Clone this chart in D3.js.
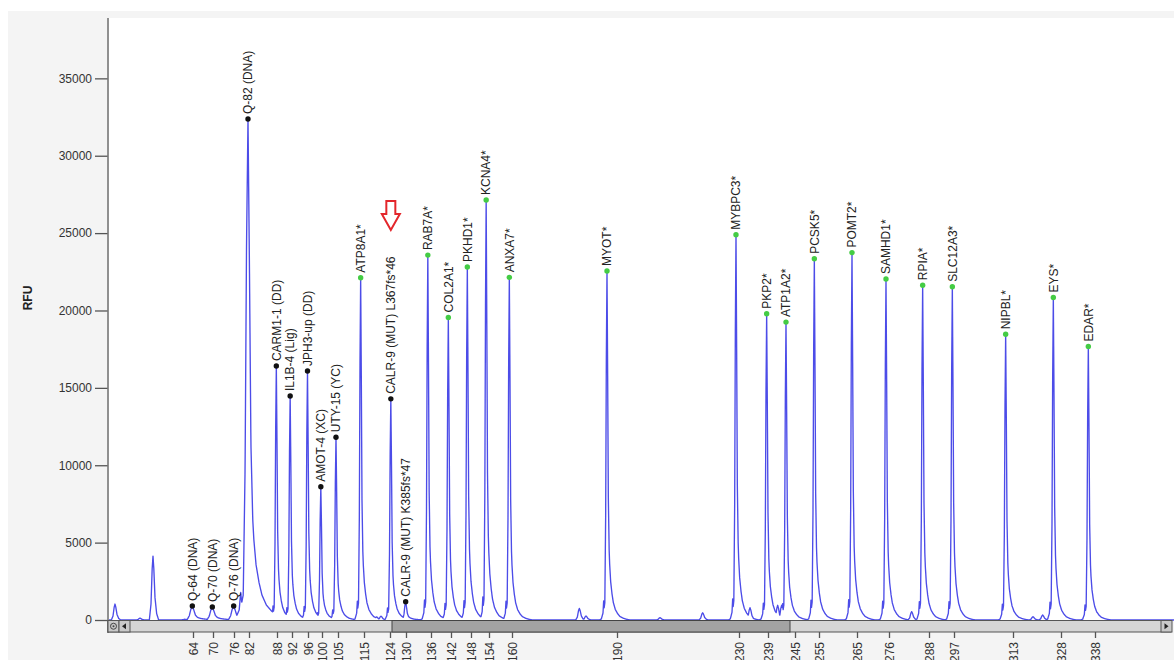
<!DOCTYPE html>
<html>
<head>
<meta charset="utf-8">
<script src="https://cdn.jsdelivr.net/npm/d3@7"></script>
<style>
  html, body { margin: 0; padding: 0; background: #fff; }
  svg { display: block; font-family: "Liberation Sans", Arial, sans-serif; }
</style>
</head>
<body>
<svg id="chart" width="1174" height="660"></svg>
<script>
// Fragment-analysis electropherogram: RFU signal against capillary scan,
// with the fragment size standard (bp) printed under the scroll bar.

// Called peaks: name, scan position, height (RFU), relative peak width
const peakNames = [
  "Q-64 (DNA)", "Q-70 (DNA)", "Q-76 (DNA)", "Q-82 (DNA)",
  "CARM1-1 (DD)", "IL1B-4 (Lig)", "JPH3-up (DD)", "AMOT-4 (XC)", "UTY-15 (YC)",
  "ATP8A1*", "CALR-9 (MUT) L367fs*46", "CALR-9 (MUT) K385fs*47",
  "RAB7A*", "COL2A1*", "PKHD1*", "KCNA4*", "ANXA7*", "MYOT*",
  "MYBPC3*", "PKP2*", "ATP1A2*", "PCSK5*", "POMT2*", "SAMHD1*",
  "RPIA*", "SLC12A3*", "NIPBL*", "EYS*", "EDAR*"
];
const peakScans = [
  2500, 2620, 2748, 2834,
  3004, 3087, 3191, 3271, 3362,
  3510, 3691, 3780,
  3913, 4036, 4150, 4263, 4402, 4988,
  5762, 5946, 6062, 6232, 6458, 6662,
  6882, 7060, 7380, 7666, 7876
];
const peakRFU = [
  905, 840, 905, 32370,
  16410, 14470, 16090, 8610, 11810,
  22120, 14290, 1180,
  23580, 19550, 22810, 27140, 22140, 22550,
  24890, 19790, 19250, 23340, 23740, 22030,
  21630, 21530, 18460, 20840, 17670
];
const peakWidths = [
  2.3, 2.3, 2.3, 2.2,
  1, 1, 1, 1, 1,
  1, 1, 1.3,
  1, 1, 1, 1, 1, 1,
  1, 1, 1, 1, 1, 1,
  1, 1, 1, 1, 1
];

// Uncalled signal: small artefact and stutter peaks
const minorScans = [2036, 2186, 2264, 2912, 3606, 3632, 4822, 4862, 5306, 5562, 5846, 6012, 6036, 6816, 7544, 7602];
const minorRFU   = [1030,  120, 4130,  780,  200,  250,  750,  260,  150,  470,  800,  950,  950,  540,  210,  320];

// Size standard (bp) and the scan at which each size elutes
const sizeLabels = [64, 70, 76, 82, 88, 92, 96, 100, 105, 115, 124, 130, 136, 142, 148, 154, 160, 190,
                    230, 239, 245, 255, 265, 276, 288, 297, 313, 328, 338];
const sizeScans  = [2504, 2624, 2750, 2840, 3008, 3098, 3194, 3278, 3374, 3530, 3686, 3782, 3932, 4052,
                    4172, 4280, 4418, 5048, 5780, 5954, 6116, 6260, 6488, 6680, 6920, 7070, 7424, 7712, 7916];

const rfuTicks = [0, 5000, 10000, 15000, 20000, 25000, 30000, 35000];

// Measured shape of a called peak: [scan offset, fraction of height]
const peakProfile = [
  [-46, 0], [-34, 0.003], [-24, 0.02], [-20, 0.055], [-17, 0.035], [-13, 0.05],
  [-8, 0.3], [-4, 0.75], [0, 1], [4, 0.7], [8, 0.35], [13, 0.2], [16, 0.16],
  [22, 0.11], [30, 0.075], [38, 0.05], [50, 0.03], [64, 0.018], [78, 0.01],
  [98, 0.005], [118, 0.002], [140, 0]
];
// Measured shape of a small uncalled peak
const minorProfile = [[-22, 0], [-12, 0.25], [-5, 0.8], [0, 1], [5, 0.8], [12, 0.35], [22, 0.1], [34, 0]];

const W = 1174, H = 660;
const plot = { left: 109, right: 1174, top: 18, bottom: 620 };

const svg = d3.select("#chart");

// backgrounds
svg.append("rect").attr("x", 0).attr("y", 0).attr("width", W).attr("height", H).attr("fill", "#ffffff");
svg.append("rect").attr("x", 8).attr("y", 11).attr("width", W - 8).attr("height", H - 11).attr("fill", "#f4f4f4");
svg.append("rect").attr("x", plot.left).attr("y", plot.top)
  .attr("width", plot.right - plot.left).attr("height", plot.bottom - plot.top).attr("fill", "#ffffff");

const x = d3.scaleLinear().domain([2000, 8390]).range([plot.left, plot.right]);
const y = d3.scaleLinear().domain([0, 38900]).range([plot.bottom, plot.top]);

function profileAt(profile, d) {
  if (d <= profile[0][0] || d >= profile[profile.length - 1][0]) return 0;
  for (let i = 1; i < profile.length; i++) {
    if (d <= profile[i][0]) {
      const [a, fa] = profile[i - 1], [b, fb] = profile[i];
      return fa + (fb - fa) * (d - a) / (b - a);
    }
  }
  return 0;
}

const peaks = peakNames.map((name, i) => ({
  name, scan: peakScans[i], rfu: peakRFU[i], width: peakWidths[i], starred: name.endsWith("*")
}));
const minors = minorScans.map((s, i) => ({ scan: s, rfu: minorRFU[i] }));

// Signal trace: envelope of the individual peak shapes
const [s0, s1] = x.domain();
const trace = [];
for (let s = s0; s <= s1; s++) {
  let v = 0;
  for (const p of peaks) {
    const d = (s - p.scan) / p.width;
    if (d > -46 && d < 140) v = Math.max(v, p.rfu * profileAt(peakProfile, d));
  }
  for (const m of minors) {
    const d = s - m.scan;
    if (d > -22 && d < 34) v = Math.max(v, m.rfu * profileAt(minorProfile, d));
  }
  trace.push([s, v]);
}

svg.append("clipPath").attr("id", "plotClip").append("rect")
  .attr("x", plot.left).attr("y", plot.top).attr("width", plot.right - plot.left).attr("height", plot.bottom - plot.top + 1);

svg.append("path")
  .datum(trace)
  .attr("clip-path", "url(#plotClip)")
  .attr("fill", "none")
  .attr("stroke", "#4c4ce8")
  .attr("stroke-width", 1.35)
  .attr("stroke-linejoin", "round")
  .attr("d", d3.line().x(d => x(d[0])).y(d => y(d[1])));

// Y axis
const yAxis = svg.append("g")
  .attr("transform", `translate(${plot.left - 1},0)`)
  .call(d3.axisLeft(y).tickValues(rfuTicks).tickSize(13).tickPadding(3).tickFormat(d3.format("d")));
yAxis.select(".domain").remove();
yAxis.selectAll(".tick line").attr("stroke", "#555").attr("stroke-width", 1.3);
yAxis.selectAll(".tick text").attr("font-size", 12).attr("fill", "#333")
  .attr("font-family", "'Liberation Sans', Arial, sans-serif");
svg.append("line").attr("x1", plot.left - 1).attr("x2", plot.left - 1)
  .attr("y1", plot.top).attr("y2", 633).attr("stroke", "#777").attr("stroke-width", 1.6);

svg.append("text")
  .attr("transform", "translate(32,298) rotate(-90)")
  .attr("text-anchor", "middle")
  .attr("font-size", 12).attr("font-weight", "bold").attr("fill", "#222")
  .text("RFU");

// Scroll bar under the trace
const sb = svg.append("g");
const sbTop = 620.5, sbH = 11.5;
sb.append("rect").attr("x", plot.left - 1).attr("y", sbTop).attr("width", 1172 - plot.left).attr("height", sbH)
  .attr("fill", "#d5d5d5").attr("stroke", "#555").attr("stroke-width", 1);
sb.append("rect").attr("x", 392).attr("y", sbTop).attr("width", 398).attr("height", sbH)
  .attr("fill", "#a3a3a3").attr("stroke", "#444").attr("stroke-width", 1);
sb.append("rect").attr("x", plot.left - 1).attr("y", sbTop).attr("width", 11).attr("height", sbH)
  .attr("fill", "#c9c9c9").attr("stroke", "#555");
sb.append("circle").attr("cx", plot.left + 4.5).attr("cy", sbTop + sbH / 2).attr("r", 3)
  .attr("fill", "none").attr("stroke", "#444").attr("stroke-width", 1);
sb.append("circle").attr("cx", plot.left + 4.5).attr("cy", sbTop + sbH / 2).attr("r", 1)
  .attr("fill", "#444");
sb.append("rect").attr("x", plot.left + 10).attr("y", sbTop).attr("width", 11).attr("height", sbH)
  .attr("fill", "#c9c9c9").attr("stroke", "#555");
sb.append("path").attr("d", `M${plot.left + 13},${sbTop + sbH / 2} l4,-3 v6 z`).attr("fill", "#222");
sb.append("rect").attr("x", 1161).attr("y", sbTop).attr("width", 11).attr("height", sbH)
  .attr("fill", "#c9c9c9").attr("stroke", "#555");
sb.append("path").attr("d", `M${1168.5},${sbTop + sbH / 2} l-4,-3 v6 z`).attr("fill", "#222");

// X axis: size standard
const xAxis = svg.append("g")
  .attr("transform", `translate(0,${sbTop + sbH})`)
  .call(d3.axisBottom(x).tickValues(sizeScans).tickSize(6).tickFormat((d, i) => sizeLabels[i]));
xAxis.select(".domain").remove();
xAxis.selectAll(".tick line").attr("stroke", "#555").attr("stroke-width", 1.3);
xAxis.selectAll(".tick text")
  .attr("font-size", 12).attr("fill", "#333")
  .attr("font-family", "'Liberation Sans', Arial, sans-serif")
  .attr("transform", "rotate(-90)")
  .attr("text-anchor", "end")
  .attr("x", -10).attr("y", 0).attr("dy", "0.35em");

// Peak markers and labels
const marks = svg.append("g").selectAll("g").data(peaks).join("g")
  .attr("transform", d => `translate(${x(d.scan)},${y(d.rfu)})`);
marks.append("circle").attr("r", 2.7)
  .attr("fill", d => d.starred ? "#44cc44" : "#111");
marks.append("text")
  .attr("transform", "rotate(-90)")
  .attr("x", 5).attr("dy", "0.35em")
  .attr("font-size", 12).attr("fill", "#222")
  .text(d => d.name);

// Arrow flagging the CALR frameshift peak
const flagged = peaks.find(p => p.name.startsWith("CALR-9 (MUT) L367"));
svg.append("path")
  .attr("transform", `translate(${x(flagged.scan)},201)`)
  .attr("d", "M-4.5,0 H4.5 V13 H9 L0,29 L-9,13 H-4.5 Z")
  .attr("fill", "#fff").attr("stroke", "#e3262b").attr("stroke-width", 2).attr("stroke-linejoin", "miter");
</script>
</body>
</html>
